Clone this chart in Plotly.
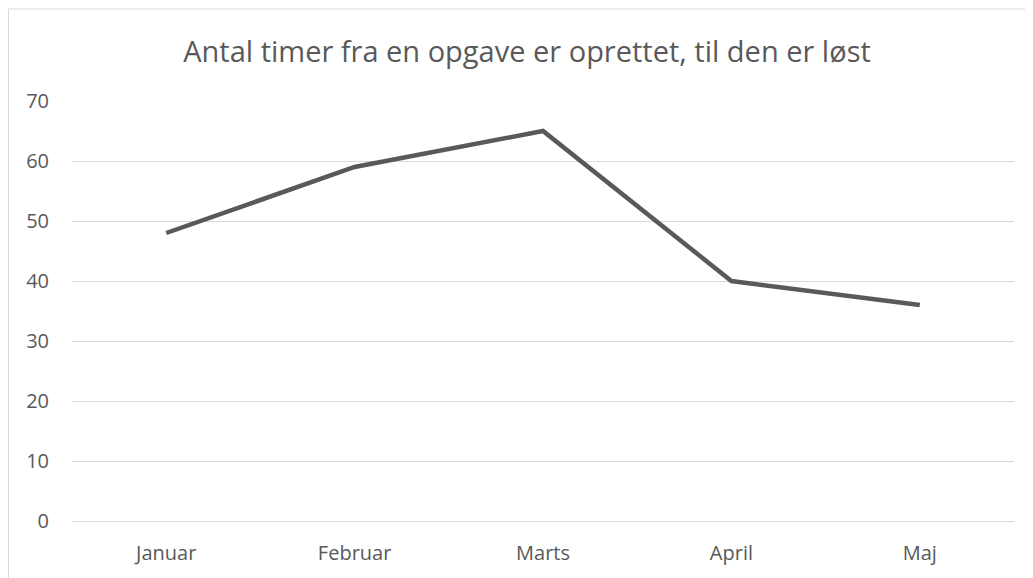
import plotly.graph_objects as go

categories = ["Januar", "Februar", "Marts", "April", "Maj"]
values = [48, 59, 65, 40, 36]
y_ticks = [0, 10, 20, 30, 40, 50, 60, 70]

W, H = 1025, 570
L, R, T, B = 64, 19, 93, 55
pw, ph = W - L - R, H - T - B

fig = go.Figure()
fig.add_trace(go.Scatter(
    x=categories, y=values, mode="lines",
    line=dict(color="#595959", width=4.5),
    hoverinfo="x+y", showlegend=False,
))

fig.update_layout(
    width=W, height=H,
    margin=dict(l=L, r=R, t=T, b=B),
    paper_bgcolor="white", plot_bgcolor="white",
    font=dict(family="Open Sans, sans-serif", color="#595959", size=20),
    title=dict(text="Antal timer fra en opgave er oprettet, til den er løst",
               x=(527 - 8) / W, xanchor="center", y=1 - 44 / H, yanchor="middle",
               font=dict(size=29, color="#595959")),
    xaxis=dict(type="category", range=[-0.5, 4.5], showgrid=False,
               showline=False, zeroline=False, ticks="", ticklabelstandoff=18),
    yaxis=dict(range=[0, 70], tickvals=y_ticks, showgrid=True,
               gridcolor="#d9d9d9", gridwidth=1, zeroline=True,
               zerolinecolor="#d9d9d9", zerolinewidth=1,
               showline=False, ticks="", ticklabelstandoff=22),
    shapes=[dict(type="rect", xref="paper", yref="paper",
                 x0=-(L - 0.5) / pw, x1=(W + 10 - L) / pw,
                 y0=-(B + 10) / ph, y1=1 + (T - 0.5) / ph,
                 line=dict(color="#d9d9d9", width=1), layer="below")],
)

fig.write_html("out.html")
